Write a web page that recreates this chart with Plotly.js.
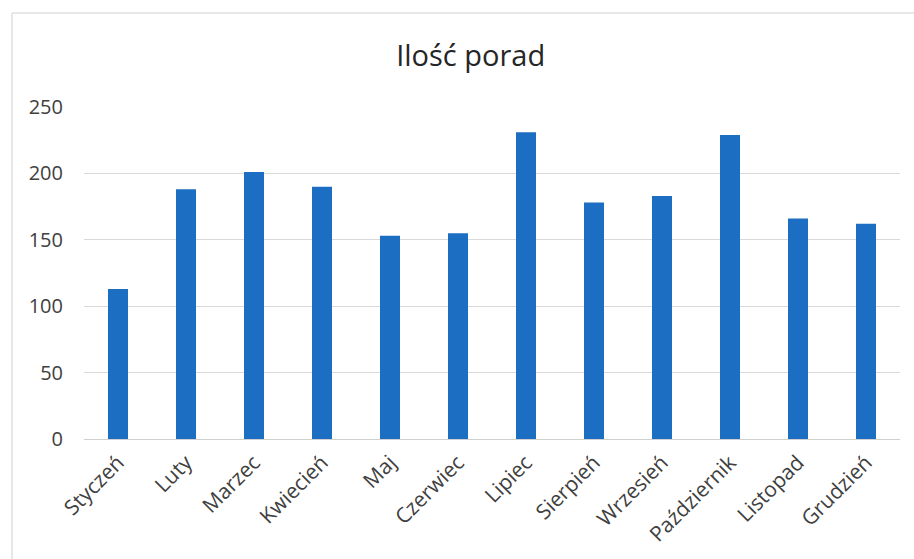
<!DOCTYPE html>
<html>
<head>
<meta charset="utf-8">
<script src="https://cdn.plot.ly/plotly-3.0.1.min.js"></script>
<style>
html,body{margin:0;padding:0;background:#fff;}
#chart{width:914px;height:559px;}
</style>
</head>
<body>
<div id="chart"></div>
<script>
const months = ["Styczeń","Luty","Marzec","Kwiecień","Maj","Czerwiec","Lipiec","Sierpień","Wrzesień","Październik","Listopad","Grudzień"];
const porady = [113, 188, 201, 190, 153, 155, 231, 178, 183, 229, 166, 162];
const yTicks = [0, 50, 100, 150, 200, 250];
const chartTitle = "Ilość porad";

const trace = {
  type: "bar",
  x: months,
  y: porady,
  marker: {color: "#1B6EC2"},
  hoverinfo: "x+y"
};

const layout = {
  width: 914,
  height: 559,
  margin: {l: 84, r: 14, t: 107, b: 120},
  paper_bgcolor: "#ffffff",
  plot_bgcolor: "#ffffff",
  bargap: 0.706,
  showlegend: false,
  title: {
    text: chartTitle,
    x: 0.515,
    xanchor: "center",
    y: 0.9,
    yanchor: "middle",
    font: {family: "Open Sans", size: 29, color: "#262626"}
  },
  xaxis: {
    type: "category",
    tickangle: -45,
    tickfont: {family: "Open Sans", size: 21, color: "#404040"},
    showgrid: false,
    showline: true,
    linecolor: "#d0d0d0",
    linewidth: 1,
    ticks: "",
    ticklabelstandoff: 2
  },
  yaxis: {
    range: [0, 250],
    tickvals: yTicks,
    ticktext: yTicks.map(String),
    tickfont: {family: "Open Sans", size: 20, color: "#404040"},
    showgrid: true,
    gridcolor: "#d9d9d9",
    gridwidth: 1,
    zeroline: false,
    showline: false,
    ticks: "",
    ticklabelstandoff: 20
  },
  shapes: [
    {type: "line", xref: "paper", yref: "paper", x0: -0.0882, x1: -0.0882, y0: -0.5, y1: 1.2831,
     line: {color: "#cfcfcf", width: 1}},
    {type: "line", xref: "paper", yref: "paper", x0: -0.0882, x1: 1.05, y0: 1.2831, y1: 1.2831,
     line: {color: "#cfcfcf", width: 1}}
  ]
};

Plotly.newPlot("chart", [trace], layout, {displayModeBar: false, staticPlot: true});
</script>
</body>
</html>
